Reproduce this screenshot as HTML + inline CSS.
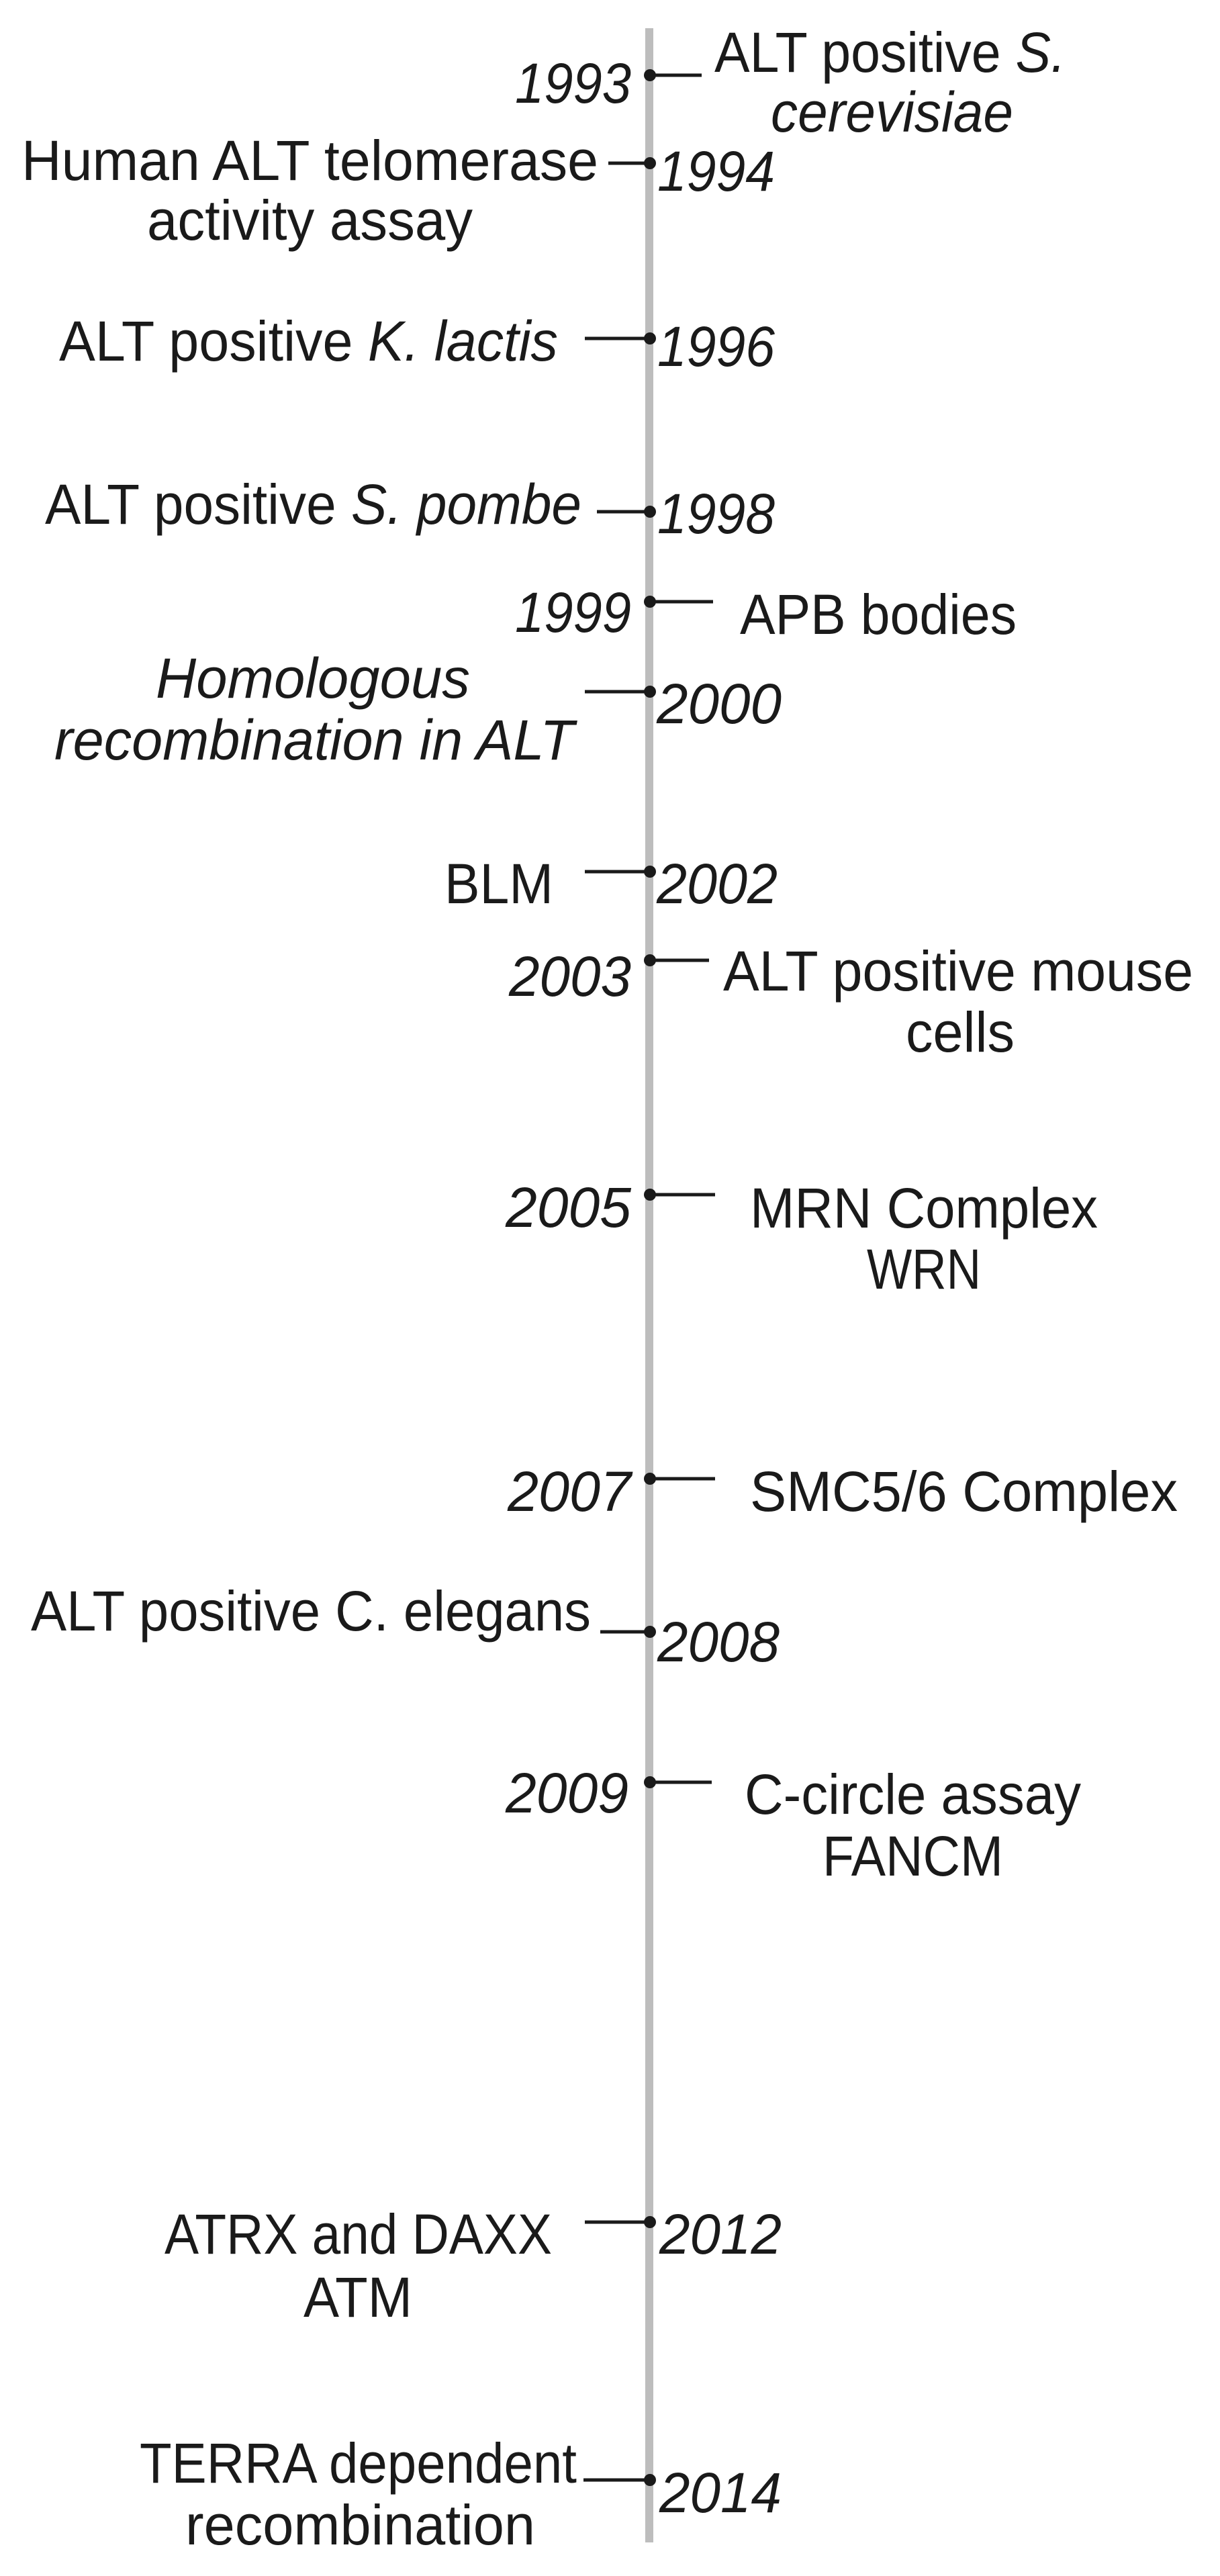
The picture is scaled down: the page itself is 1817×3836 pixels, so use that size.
<!DOCTYPE html>
<html><head><style>
html,body{margin:0;padding:0;background:#fff;}
svg{display:block;}
text{font-family:"Liberation Sans",sans-serif;font-size:84px;fill:#1a1a1a;}
.i{font-style:italic;}
</style></head><body>
<svg width="1817" height="3836" viewBox="0 0 1817 3836" xmlns="http://www.w3.org/2000/svg">
<rect x="961" y="42" width="12" height="3744" fill="#bdbdbd"/>
<g stroke="#1a1a1a" stroke-width="5">
<line x1="968" y1="112" x2="1045" y2="112"/>
<line x1="906" y1="243" x2="968" y2="243"/>
<line x1="871" y1="504" x2="968" y2="504"/>
<line x1="889" y1="762" x2="968" y2="762"/>
<line x1="968" y1="896" x2="1062" y2="896"/>
<line x1="871" y1="1030" x2="968" y2="1030"/>
<line x1="871" y1="1298" x2="968" y2="1298"/>
<line x1="968" y1="1430" x2="1056" y2="1430"/>
<line x1="968" y1="1779" x2="1065" y2="1779"/>
<line x1="968" y1="2202" x2="1065" y2="2202"/>
<line x1="894" y1="2430" x2="968" y2="2430"/>
<line x1="968" y1="2654" x2="1060" y2="2654"/>
<line x1="871" y1="3309" x2="968" y2="3309"/>
<line x1="869" y1="3693" x2="968" y2="3693"/>
</g>
<g fill="#1a1a1a">
<circle cx="968" cy="112" r="9"/><circle cx="968" cy="243" r="9"/><circle cx="968" cy="504" r="9"/>
<circle cx="968" cy="762" r="9"/><circle cx="968" cy="896" r="9"/><circle cx="968" cy="1030" r="9"/>
<circle cx="968" cy="1298" r="9"/><circle cx="968" cy="1430" r="9"/><circle cx="968" cy="1779" r="9"/>
<circle cx="968" cy="2202" r="9"/><circle cx="968" cy="2430" r="9"/><circle cx="968" cy="2654" r="9"/>
<circle cx="968" cy="3309" r="9"/><circle cx="968" cy="3693" r="9"/>
</g>
<!-- years -->
<text class="i" x="767" y="153" textLength="173" lengthAdjust="spacingAndGlyphs">1993</text>
<text class="i" x="979" y="284" textLength="175" lengthAdjust="spacingAndGlyphs">1994</text>
<text class="i" x="979" y="545" textLength="175" lengthAdjust="spacingAndGlyphs">1996</text>
<text class="i" x="979" y="794" textLength="175" lengthAdjust="spacingAndGlyphs">1998</text>
<text class="i" x="767" y="941" textLength="173" lengthAdjust="spacingAndGlyphs">1999</text>
<text class="i" x="978" y="1077" textLength="186" lengthAdjust="spacingAndGlyphs">2000</text>
<text class="i" x="978" y="1345" textLength="180" lengthAdjust="spacingAndGlyphs">2002</text>
<text class="i" x="758" y="1483" textLength="182" lengthAdjust="spacingAndGlyphs">2003</text>
<text class="i" x="753" y="1827" textLength="187" lengthAdjust="spacingAndGlyphs">2005</text>
<text class="i" x="756" y="2250" textLength="184" lengthAdjust="spacingAndGlyphs">2007</text>
<text class="i" x="979" y="2474" textLength="182" lengthAdjust="spacingAndGlyphs">2008</text>
<text class="i" x="753" y="2699" textLength="183" lengthAdjust="spacingAndGlyphs">2009</text>
<text class="i" x="982" y="3356" textLength="182" lengthAdjust="spacingAndGlyphs">2012</text>
<text class="i" x="982" y="3741" textLength="182" lengthAdjust="spacingAndGlyphs">2014</text>
<!-- labels -->
<text x="1064" y="107" textLength="523" lengthAdjust="spacingAndGlyphs">ALT positive <tspan class="i">S.</tspan></text>
<text class="i" x="1148" y="196" textLength="361" lengthAdjust="spacingAndGlyphs">cerevisiae</text>
<text x="32" y="268" textLength="859" lengthAdjust="spacingAndGlyphs">Human ALT  telomerase</text>
<text x="219" y="357" textLength="485" lengthAdjust="spacingAndGlyphs">activity assay</text>
<text x="88" y="537" textLength="743" lengthAdjust="spacingAndGlyphs">ALT positive <tspan class="i">K. lactis</tspan></text>
<text x="67" y="780" textLength="799" lengthAdjust="spacingAndGlyphs">ALT positive <tspan class="i">S. pombe</tspan></text>
<text x="1102" y="944" textLength="412" lengthAdjust="spacingAndGlyphs">APB bodies</text>
<text class="i" x="232" y="1039" textLength="468" lengthAdjust="spacingAndGlyphs">Homologous</text>
<text class="i" x="81" y="1131" textLength="774" lengthAdjust="spacingAndGlyphs">recombination in ALT</text>
<text x="662" y="1345" textLength="162" lengthAdjust="spacingAndGlyphs">BLM</text>
<text x="1077" y="1475" textLength="700" lengthAdjust="spacingAndGlyphs">ALT positive mouse</text>
<text x="1349" y="1566" textLength="162" lengthAdjust="spacingAndGlyphs">cells</text>
<text x="1117" y="1828" textLength="518" lengthAdjust="spacingAndGlyphs">MRN Complex</text>
<text x="1291" y="1919" textLength="170" lengthAdjust="spacingAndGlyphs">WRN</text>
<text x="1117" y="2250" textLength="637" lengthAdjust="spacingAndGlyphs">SMC5/6 Complex</text>
<text x="46" y="2428" textLength="834" lengthAdjust="spacingAndGlyphs">ALT positive C. elegans</text>
<text x="1109" y="2701" textLength="501" lengthAdjust="spacingAndGlyphs">C-circle assay</text>
<text x="1225" y="2793" textLength="269" lengthAdjust="spacingAndGlyphs">FANCM</text>
<text x="245" y="3356" textLength="577" lengthAdjust="spacingAndGlyphs">ATRX and DAXX</text>
<text x="452" y="3450" textLength="162" lengthAdjust="spacingAndGlyphs">ATM</text>
<text x="208" y="3697" textLength="651" lengthAdjust="spacingAndGlyphs">TERRA dependent</text>
<text x="276" y="3789" textLength="521" lengthAdjust="spacingAndGlyphs">recombination</text>
</svg>
</body></html>
